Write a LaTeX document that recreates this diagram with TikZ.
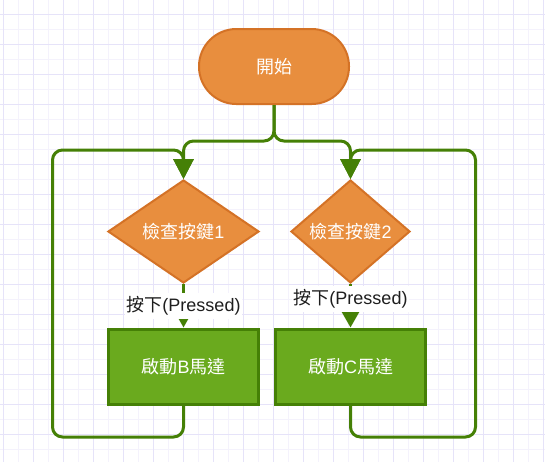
\documentclass[tikz,border=0pt]{standalone}
\usepackage{fontspec}
\setmainfont{Liberation Sans}
\newfontfamily\cjk{Noto Sans CJK TC}
\usepackage{xcolor}
\usepackage{tikz}
\usetikzlibrary{
    arrows.meta,
    shapes.geometric,
    positioning
}
\definecolor{orfill}{RGB}{232,142,62}
\definecolor{ordraw}{RGB}{212,114,38}
\definecolor{grfill}{RGB}{106,170,30}
\definecolor{grdraw}{RGB}{69,128,6}
\definecolor{gridmin}{RGB}{244,242,252}
\definecolor{gridmaj}{RGB}{230,227,249}
\definecolor{lbltext}{RGB}{30,30,30}
\tikzset{%
   gmin/.style={
      draw=gridmin,
      line width=0.75pt
   },
   gmaj/.style={
      draw=gridmaj,
      line width=0.75pt
   },
   term/.style={
      rectangle,
      rounded corners=28pt,
      draw=ordraw,
      fill=orfill,
      line width=1.5pt,
      minimum width=112.5pt,
      minimum height=56.25pt,
      text=white,
      font=\fontsize{13.5}{15}\selectfont
   },
   dec/.style={
      diamond,
      draw=ordraw,
      fill=orfill,
      line width=1.5pt,
      inner sep=0pt,
      minimum height=77.25pt,
      text=white,
      font=\fontsize{13.5}{15}\selectfont
   },
   act/.style={
      rectangle,
      draw=grdraw,
      fill=grfill,
      line width=2.25pt,
      minimum width=112.5pt,
      minimum height=56.25pt,
      text=white,
      font=\fontsize{13.5}{15}\selectfont
   },
   flow/.style={
      draw=grdraw,
      line width=2.25pt,
      rounded corners=7.5pt,
      -{Triangle[length=15pt,width=15pt]}
   },
   flowb/.style={
      draw=grdraw,
      line width=2.25pt,
      -{Triangle[length=12pt,width=13pt]}
   },
   lbl/.style={
      fill=white,
      inner xsep=1pt,
      inner ysep=2.5pt,
      text=lbltext,
      font=\fontsize{13.5}{15}\selectfont
   },
}

\begin{document}
\begin{tikzpicture}[x=0.75pt, y=-0.75pt]
      \fill[white] (0,0) rectangle (545,462);
      \useasboundingbox (0,0) rectangle (545,462);
      % grid
      \foreach \gx in {3,18,...,543} \draw[gmin] (\gx,0) -- (\gx,462);
      \foreach \gy in {14,29,...,449} \draw[gmin] (0,\gy) -- (545,\gy);
      \foreach \gx in {3,33,...,543} \draw[gmaj] (\gx,0) -- (\gx,462);
      \foreach \gy in {14,44,...,434} \draw[gmaj] (0,\gy) -- (545,\gy);
      % nodes
      \node[term] (start) at (274,66.5) {{\cjk 開始}};
      \node[dec, minimum width=113.25pt] (d1) at (183.5,231.5) {{\cjk 檢查按鍵}1};
      \node[dec, minimum width=89.25pt] (d2) at (350.5,231.5) {{\cjk 檢查按鍵}2};
      \node[act] (rb) at (183.5,366.5) {{\cjk 啟動}B{\cjk 馬達}};
      \node[act] (rc) at (350.5,366.5) {{\cjk 啟動}C{\cjk 馬達}};
      \coordinate (split) at (274,141);
      \coordinate (lb) at (52.5,437);
      \coordinate (lt) at (52.5,150);
      \coordinate (rl) at (475.5,437);
      \coordinate (rt) at (475.5,150);
      % edges
      \draw[flow] (start.south) |- (d1.north |- split) -- (d1.north);
      \draw[flow] (start.south) |- (d2.north |- split) -- (d2.north);
      \draw[flow] (rb.south) |- (lb) |- (d1.north |- lt) -- (d1.north);
      \draw[flow] (rc.south) |- (rl) |- (d2.north |- rt) -- (d2.north);
      \draw[flowb] (d1.south) -- node[lbl] {{\cjk 按下}(Pressed)} (rb.north);
      \draw[flowb] (d2.south) -- node[lbl, pos=0.35] {{\cjk 按下}(Pressed)} (rc.north);
   \end{tikzpicture}
\end{document}
